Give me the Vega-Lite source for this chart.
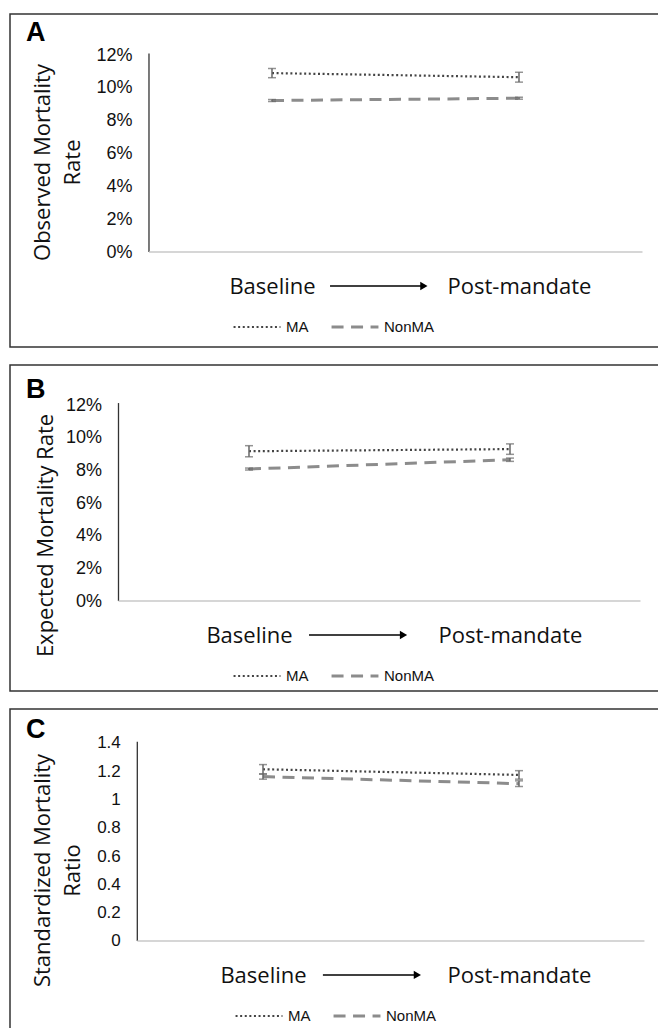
{
  "$schema": "https://vega.github.io/schema/vega-lite/v6.json",
  "padding": {"left": 9, "top": 13, "right": 0, "bottom": 0},
  "background": "white",
  "spacing": 16,
  "resolve": {
    "scale": {"color": "independent", "strokeDash": "independent", "strokeWidth": "independent"},
    "legend": {"color": "independent", "strokeDash": "independent", "strokeWidth": "independent"}
  },
  "config": {
    "view": {"stroke": "#333", "strokeWidth": 1.5},
    "font": "Liberation Sans",
    "axis": {"grid": false, "domain": false, "ticks": false, "tickSize": 0, "labelColor": "#111", "titleColor": "#111", "labelFont": "Liberation Sans", "titleFont": "Open Sans", "titleFontWeight": "normal", "labelFlush": false, "labelOverlap": false}
  },
  "datasets": {
    "A": [
      {"period": 1, "group": "MA", "value": 0.109, "lo": 0.1062, "hi": 0.1118},
      {"period": 2, "group": "MA", "value": 0.1065, "lo": 0.1035, "hi": 0.1095},
      {"period": 1, "group": "NonMA", "value": 0.0923, "lo": 0.0917, "hi": 0.0929},
      {"period": 2, "group": "NonMA", "value": 0.0937, "lo": 0.0931, "hi": 0.0943}
    ],
    "B": [
      {"period": 1, "group": "MA", "value": 0.0917, "lo": 0.0883, "hi": 0.0951},
      {"period": 2, "group": "MA", "value": 0.093, "lo": 0.0898, "hi": 0.0962},
      {"period": 1, "group": "NonMA", "value": 0.0808, "lo": 0.0802, "hi": 0.0814},
      {"period": 2, "group": "NonMA", "value": 0.0865, "lo": 0.0855, "hi": 0.0875}
    ],
    "C": [
      {"period": 1, "group": "MA", "value": 1.214, "lo": 1.181, "hi": 1.247},
      {"period": 2, "group": "MA", "value": 1.174, "lo": 1.144, "hi": 1.204},
      {"period": 1, "group": "NonMA", "value": 1.162, "lo": 1.144, "hi": 1.18},
      {"period": 2, "group": "NonMA", "value": 1.112, "lo": 1.092, "hi": 1.132}
    ]
  },
  "vconcat": [
    {
      "width": 652, "height": 333,
      "data": {"name": "A"},
      "layer": [
        {"data": {"values": [{}]}, "mark": {"type": "rule", "color": "#333", "strokeWidth": 1.3},
         "encoding": {"x": {"datum": 0.502, "scale": {"domain": [-0.0607, 2.579], "nice": false, "zero": false}}, "y": {"datum": 0, "scale": {"domain": [-0.05786, 0.145], "nice": false, "zero": false}}, "y2": {"datum": 0.121}}},
        {"data": {"values": [{}]}, "mark": {"type": "rule", "color": "#c8c8c8", "strokeWidth": 1.5},
         "encoding": {"x": {"datum": 0.502, "scale": {"domain": [-0.0607, 2.579], "nice": false, "zero": false}}, "x2": {"datum": 2.5}, "y": {"datum": 0, "scale": {"domain": [-0.05786, 0.145], "nice": false, "zero": false}}}},
        {"mark": {"type": "line"},
         "encoding": {
           "x": {"field": "period", "type": "quantitative", "scale": {"domain": [-0.0607, 2.579], "nice": false, "zero": false},
                 "axis": {"orient": "bottom", "offset": -61, "values": [1, 2], "labelExpr": "datum.value == 1 ? 'Baseline' : 'Post-mandate'", "labelFont": "Open Sans", "labelFontSize": 22, "labelBaseline": "middle", "labelPadding": 0, "title": null}},
           "y": {"field": "value", "type": "quantitative", "scale": {"domain": [-0.05786, 0.145], "nice": false, "zero": false},
                 "axis": {"offset": -139, "values": [0, 0.02, 0.04, 0.06, 0.08, 0.1, 0.12], "format": ".0%", "labelFontSize": 18, "labelPadding": 17, "title": ["Observed Mortality", "Rate"], "titleFontSize": 22, "titleLineHeight": 30, "titleX": -107, "titleY": 148, "titleAngle": -90, "titleBaseline": "middle", "titleAlign": "center"}},
           "color": {"field": "group", "type": "nominal", "scale": {"domain": ["MA", "NonMA"], "range": ["#444444", "#8c8c8c"]},
                     "legend": {"title": null, "orient": "none", "legendX": 222, "legendY": 288, "direction": "horizontal", "symbolType": "stroke", "symbolSize": 2200, "labelFontSize": 15, "labelOffset": 4, "columnPadding": 16, "labelColor": "#111"}},
           "strokeDash": {"field": "group", "type": "nominal", "scale": {"domain": ["MA", "NonMA"], "range": [[2, 2.6], [12, 7.5]]},
                     "legend": {"title": null, "orient": "none", "legendX": 222, "legendY": 288, "direction": "horizontal", "symbolType": "stroke", "symbolSize": 2200, "labelFontSize": 15, "labelOffset": 4, "columnPadding": 16, "labelColor": "#111"}},
           "strokeWidth": {"field": "group", "type": "nominal", "scale": {"domain": ["MA", "NonMA"], "range": [2.2, 3]},
                     "legend": {"title": null, "orient": "none", "legendX": 222, "legendY": 288, "direction": "horizontal", "symbolType": "stroke", "symbolSize": 2200, "labelFontSize": 15, "labelOffset": 4, "columnPadding": 16, "labelColor": "#111"}}
         }},
        {"mark": {"type": "errorbar", "color": "#666666", "thickness": 1.5, "ticks": {"size": 8, "thickness": 1.5}},
         "encoding": {"x": {"field": "period", "type": "quantitative", "scale": {"domain": [-0.0607, 2.579], "nice": false, "zero": false}, "axis": {"title": null}}, "y": {"field": "lo", "type": "quantitative", "scale": {"domain": [-0.05786, 0.145], "nice": false, "zero": false}, "axis": {"title": ["Observed Mortality", "Rate"]}}, "y2": {"field": "hi"}}},
        {"data": {"values": [{}]}, "mark": {"type": "rule", "color": "#000", "strokeWidth": 1.5},
         "encoding": {"x": {"datum": 1.235, "scale": {"domain": [-0.0607, 2.579], "nice": false, "zero": false}}, "x2": {"datum": 1.61}, "y": {"datum": -0.0207, "scale": {"domain": [-0.05786, 0.145], "nice": false, "zero": false}}}},
        {"data": {"values": [{}]}, "mark": {"type": "point", "shape": "triangle-right", "filled": true, "color": "#000", "size": 70, "opacity": 1},
         "encoding": {"x": {"datum": 1.615, "scale": {"domain": [-0.0607, 2.579], "nice": false, "zero": false}}, "y": {"datum": -0.0207, "scale": {"domain": [-0.05786, 0.145], "nice": false, "zero": false}}}},
        {"data": {"values": [{}]}, "mark": {"type": "text", "text": "A", "align": "left", "baseline": "alphabetic", "fontSize": 27, "fontWeight": "bold", "color": "#000"},
         "encoding": {"x": {"datum": 0.004, "scale": {"domain": [-0.0607, 2.579], "nice": false, "zero": false}}, "y": {"datum": 0.1285, "scale": {"domain": [-0.05786, 0.145], "nice": false, "zero": false}}}}
      ]
    },
    {
      "width": 652, "height": 326,
      "data": {"name": "B"},
      "layer": [
        {"data": {"values": [{}]}, "mark": {"type": "rule", "color": "#333", "strokeWidth": 1.3},
         "encoding": {"x": {"datum": 0.5, "scale": {"domain": [0.0843, 2.5824], "nice": false, "zero": false}}, "y": {"datum": 0, "scale": {"domain": [-0.0551, 0.1445], "nice": false, "zero": false}}, "y2": {"datum": 0.1212}}},
        {"data": {"values": [{}]}, "mark": {"type": "rule", "color": "#c8c8c8", "strokeWidth": 1.5},
         "encoding": {"x": {"datum": 0.5, "scale": {"domain": [0.0843, 2.5824], "nice": false, "zero": false}}, "x2": {"datum": 2.5}, "y": {"datum": 0, "scale": {"domain": [-0.0551, 0.1445], "nice": false, "zero": false}}}},
        {"mark": {"type": "line"},
         "encoding": {
           "x": {"field": "period", "type": "quantitative", "scale": {"domain": [0.0843, 2.5824], "nice": false, "zero": false},
                 "axis": {"orient": "bottom", "offset": -56, "values": [1, 2], "labelExpr": "datum.value == 1 ? 'Baseline' : 'Post-mandate'", "labelFont": "Open Sans", "labelFontSize": 22, "labelBaseline": "middle", "labelPadding": 0, "title": null}},
           "y": {"field": "value", "type": "quantitative", "scale": {"domain": [-0.0551, 0.1445], "nice": false, "zero": false},
                 "axis": {"offset": -108.5, "values": [0, 0.02, 0.04, 0.06, 0.08, 0.1, 0.12], "format": ".0%", "labelFontSize": 18, "labelPadding": 17, "title": "Expected Mortality Rate", "titleFontSize": 22, "titleX": -73.5, "titleY": 170, "titleAngle": -90, "titleBaseline": "middle", "titleAlign": "center"}},
           "color": {"field": "group", "type": "nominal", "scale": {"domain": ["MA", "NonMA"], "range": ["#444444", "#8c8c8c"]},
                     "legend": {"title": null, "orient": "none", "legendX": 222, "legendY": 286, "direction": "horizontal", "symbolType": "stroke", "symbolSize": 2200, "labelFontSize": 15, "labelOffset": 4, "columnPadding": 16, "labelColor": "#111"}},
           "strokeDash": {"field": "group", "type": "nominal", "scale": {"domain": ["MA", "NonMA"], "range": [[2, 2.6], [12, 7.5]]},
                     "legend": {"title": null, "orient": "none", "legendX": 222, "legendY": 286, "direction": "horizontal", "symbolType": "stroke", "symbolSize": 2200, "labelFontSize": 15, "labelOffset": 4, "columnPadding": 16, "labelColor": "#111"}},
           "strokeWidth": {"field": "group", "type": "nominal", "scale": {"domain": ["MA", "NonMA"], "range": [2.2, 3]},
                     "legend": {"title": null, "orient": "none", "legendX": 222, "legendY": 286, "direction": "horizontal", "symbolType": "stroke", "symbolSize": 2200, "labelFontSize": 15, "labelOffset": 4, "columnPadding": 16, "labelColor": "#111"}}
         }},
        {"mark": {"type": "errorbar", "color": "#666666", "thickness": 1.5, "ticks": {"size": 8, "thickness": 1.5}},
         "encoding": {"x": {"field": "period", "type": "quantitative", "scale": {"domain": [0.0843, 2.5824], "nice": false, "zero": false}, "axis": {"title": null}}, "y": {"field": "lo", "type": "quantitative", "scale": {"domain": [-0.0551, 0.1445], "nice": false, "zero": false}, "axis": {"title": "Expected Mortality Rate"}}, "y2": {"field": "hi"}}},
        {"data": {"values": [{}]}, "mark": {"type": "rule", "color": "#000", "strokeWidth": 1.5},
         "encoding": {"x": {"datum": 1.23, "scale": {"domain": [0.0843, 2.5824], "nice": false, "zero": false}}, "x2": {"datum": 1.59}, "y": {"datum": -0.0208, "scale": {"domain": [-0.0551, 0.1445], "nice": false, "zero": false}}}},
        {"data": {"values": [{}]}, "mark": {"type": "point", "shape": "triangle-right", "filled": true, "color": "#000", "size": 70, "opacity": 1},
         "encoding": {"x": {"datum": 1.592, "scale": {"domain": [0.0843, 2.5824], "nice": false, "zero": false}}, "y": {"datum": -0.0208, "scale": {"domain": [-0.0551, 0.1445], "nice": false, "zero": false}}}},
        {"data": {"values": [{}]}, "mark": {"type": "text", "text": "B", "align": "left", "baseline": "alphabetic", "fontSize": 27, "fontWeight": "bold", "color": "#000"},
         "encoding": {"x": {"datum": 0.146, "scale": {"domain": [0.0843, 2.5824], "nice": false, "zero": false}}, "y": {"datum": 0.1243, "scale": {"domain": [-0.0551, 0.1445], "nice": false, "zero": false}}}}
      ]
    },
    {
      "width": 652, "height": 326,
      "data": {"name": "C"},
      "layer": [
        {"data": {"values": [{}]}, "mark": {"type": "rule", "color": "#333", "strokeWidth": 1.3},
         "encoding": {"x": {"datum": 0.509, "scale": {"domain": [0.0117, 2.5586], "nice": false, "zero": false}}, "y": {"datum": 0, "scale": {"domain": [-0.665, 1.64], "nice": false, "zero": false}}, "y2": {"datum": 1.409}}},
        {"data": {"values": [{}]}, "mark": {"type": "rule", "color": "#c8c8c8", "strokeWidth": 1.5},
         "encoding": {"x": {"datum": 0.509, "scale": {"domain": [0.0117, 2.5586], "nice": false, "zero": false}}, "x2": {"datum": 2.49}, "y": {"datum": 0, "scale": {"domain": [-0.665, 1.64], "nice": false, "zero": false}}}},
        {"mark": {"type": "line"},
         "encoding": {
           "x": {"field": "period", "type": "quantitative", "scale": {"domain": [0.0117, 2.5586], "nice": false, "zero": false},
                 "axis": {"orient": "bottom", "offset": -60, "values": [1, 2], "labelExpr": "datum.value == 1 ? 'Baseline' : 'Post-mandate'", "labelFont": "Open Sans", "labelFontSize": 22, "labelBaseline": "middle", "labelPadding": 0, "title": null}},
           "y": {"field": "value", "type": "quantitative", "scale": {"domain": [-0.665, 1.64], "nice": false, "zero": false},
                 "axis": {"offset": -127.3, "values": [0, 0.2, 0.4, 0.6, 0.8, 1, 1.2, 1.4], "format": "~g", "labelFontSize": 17, "labelPadding": 17, "title": ["Standardized Mortality", "Ratio"], "titleFontSize": 22, "titleLineHeight": 30, "titleX": -95, "titleY": 161, "titleAngle": -90, "titleBaseline": "middle", "titleAlign": "center"}},
           "color": {"field": "group", "type": "nominal", "scale": {"domain": ["MA", "NonMA"], "range": ["#444444", "#8c8c8c"]},
                     "legend": {"title": null, "orient": "none", "legendX": 224, "legendY": 282, "direction": "horizontal", "symbolType": "stroke", "symbolSize": 2200, "labelFontSize": 15, "labelOffset": 4, "columnPadding": 16, "labelColor": "#111"}},
           "strokeDash": {"field": "group", "type": "nominal", "scale": {"domain": ["MA", "NonMA"], "range": [[2, 2.6], [12, 7.5]]},
                     "legend": {"title": null, "orient": "none", "legendX": 224, "legendY": 282, "direction": "horizontal", "symbolType": "stroke", "symbolSize": 2200, "labelFontSize": 15, "labelOffset": 4, "columnPadding": 16, "labelColor": "#111"}},
           "strokeWidth": {"field": "group", "type": "nominal", "scale": {"domain": ["MA", "NonMA"], "range": [2.2, 3]},
                     "legend": {"title": null, "orient": "none", "legendX": 224, "legendY": 282, "direction": "horizontal", "symbolType": "stroke", "symbolSize": 2200, "labelFontSize": 15, "labelOffset": 4, "columnPadding": 16, "labelColor": "#111"}}
         }},
        {"mark": {"type": "errorbar", "color": "#666666", "thickness": 1.5, "ticks": {"size": 8, "thickness": 1.5}},
         "encoding": {"x": {"field": "period", "type": "quantitative", "scale": {"domain": [0.0117, 2.5586], "nice": false, "zero": false}, "axis": {"title": null}}, "y": {"field": "lo", "type": "quantitative", "scale": {"domain": [-0.665, 1.64], "nice": false, "zero": false}, "axis": {"title": ["Standardized Mortality", "Ratio"]}}, "y2": {"field": "hi"}}},
        {"data": {"values": [{}]}, "mark": {"type": "rule", "color": "#000", "strokeWidth": 1.5},
         "encoding": {"x": {"datum": 1.234, "scale": {"domain": [0.0117, 2.5586], "nice": false, "zero": false}}, "x2": {"datum": 1.6}, "y": {"datum": -0.24, "scale": {"domain": [-0.665, 1.64], "nice": false, "zero": false}}}},
        {"data": {"values": [{}]}, "mark": {"type": "point", "shape": "triangle-right", "filled": true, "color": "#000", "size": 70, "opacity": 1},
         "encoding": {"x": {"datum": 1.603, "scale": {"domain": [0.0117, 2.5586], "nice": false, "zero": false}}, "y": {"datum": -0.24, "scale": {"domain": [-0.665, 1.64], "nice": false, "zero": false}}}},
        {"data": {"values": [{}]}, "mark": {"type": "text", "text": "C", "align": "left", "baseline": "alphabetic", "fontSize": 27, "fontWeight": "bold", "color": "#000"},
         "encoding": {"x": {"datum": 0.074, "scale": {"domain": [0.0117, 2.5586], "nice": false, "zero": false}}, "y": {"datum": 1.435, "scale": {"domain": [-0.665, 1.64], "nice": false, "zero": false}}}}
      ]
    }
  ]
}
